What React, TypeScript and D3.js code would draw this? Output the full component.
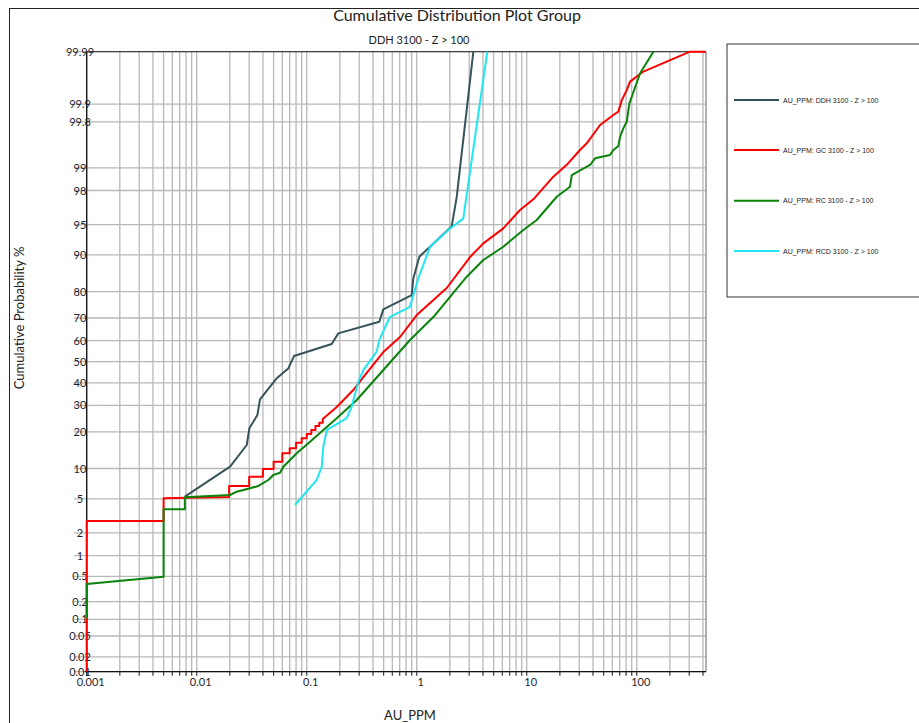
import React from "react";
import * as d3 from "d3";

const TITLE = "Cumulative Distribution Plot Group";
const SUBTITLE = "DDH 3100 - Z > 100";
const X_TITLE = "AU_PPM";
const Y_TITLE = "Cumulative Probability %";

const X_MIN = 0.001;
const X_MAX = 426;
const P_MIN = 0.01;
const P_MAX = 99.99;

const xTickLabels = [0.001, 0.01, 0.1, 1, 10, 100];
const yTickValues = [0.01, 0.02, 0.05, 0.1, 0.2, 0.5, 1, 2, 5, 10, 20, 30, 40, 50, 60, 70, 80, 90, 95, 98, 99, 99.8, 99.9, 99.99];

// [AU_PPM, cumulative %]
const ddh: [number, number][] = [
  [0.0078, 5.27], [0.0201, 10.39], [0.0285, 15.88], [0.0301, 21.2], [0.0356, 26.1],
  [0.0376, 32.6], [0.0533, 42.1], [0.068, 46.8], [0.0766, 52.7], [0.1687, 58.4],
  [0.1936, 63.3], [0.457, 68.4], [0.497, 73.5], [0.9, 78.8], [0.931, 84.1],
  [1.056, 89.6], [1.32, 91.6], [2.08, 94.8], [2.31, 97.6], [3.27, 99.99],
];

const gc: [number, number][] = [
  [0.001, 0.01], [0.001, 2.8], [0.005, 2.8], [0.005, 5.06], [0.0197, 5.23], [0.0197, 6.8],
  [0.03, 6.8], [0.03, 8.39], [0.04, 8.39], [0.04, 9.9], [0.05, 9.9], [0.05, 11.5],
  [0.06, 11.5], [0.06, 13.6], [0.07, 13.6], [0.07, 14.94], [0.08, 14.94], [0.08, 16.56],
  [0.09, 16.56], [0.09, 17.9], [0.1, 17.9], [0.1, 19.3], [0.11, 19.3], [0.11, 20.6],
  [0.12, 20.6], [0.12, 22.0], [0.13, 22.0], [0.13, 23.2], [0.14, 23.2], [0.14, 24.6],
  [0.1874, 29.35], [0.265, 36.7], [0.327, 42.7], [0.497, 54.6], [0.705, 61.65],
  [1.0, 71.2], [1.874, 81.17], [3.05, 89.54], [4.03, 92.22], [6.12, 94.52],
  [8.69, 96.56], [11.48, 97.43], [17.45, 98.68], [23.1, 99.09], [30.5, 99.445],
  [35.1, 99.56], [46.4, 99.774], [61.3, 99.846], [68.0, 99.865], [73.07, 99.915],
  [81.1, 99.944], [86.9, 99.961], [114.8, 99.975], [305, 99.99], [426, 99.99],
];

const rc: [number, number][] = [
  [0.001, 0.104], [0.001, 0.383], [0.005, 0.495], [0.005, 3.83], [0.0078, 3.83],
  [0.0078, 5.19], [0.0201, 5.49], [0.0231, 5.94], [0.0305, 6.44], [0.0363, 6.8],
  [0.0448, 7.79], [0.0497, 8.71], [0.0572, 9.15], [0.0613, 10.39], [0.0705, 11.92],
  [0.0811, 13.59], [0.1072, 16.86], [0.1416, 20.63], [0.1874, 24.86], [0.2848, 32.29],
  [0.497, 46.03], [0.869, 60.27], [1.416, 70.4], [2.848, 84.6], [4.03, 88.88],
  [6.12, 91.61], [9.31, 94.29], [12.33, 95.54], [18.74, 97.61], [24.75, 98.21],
  [25.65, 98.744], [37.6, 99.086], [41.8, 99.266], [57.1, 99.343], [61.3, 99.445],
  [68.0, 99.517], [70.5, 99.652], [75.5, 99.744], [81.1, 99.8], [85.7, 99.903],
  [90.1, 99.926], [107.2, 99.973], [141.6, 99.99],
];

const rcd: [number, number][] = [
  [0.0782, 4.28], [0.1233, 7.8], [0.1369, 10.39], [0.1416, 15.4], [0.152, 20.6],
  [0.231, 24.9], [0.2565, 29.5], [0.2944, 40.5], [0.327, 46.0], [0.4326, 54.8],
  [0.46, 60.7], [0.572, 70.5], [0.869, 74.5], [0.931, 78.8], [1.034, 84.1],
  [1.32, 91.6], [2.008, 94.5], [2.65, 95.7], [4.38, 99.99],
];

const seriesNames = [
  "AU_PPM: DDH 3100 - Z > 100",
  "AU_PPM: GC 3100 - Z > 100",
  "AU_PPM: RC 3100 - Z > 100",
  "AU_PPM: RCD 3100 - Z > 100",
];
const seriesColors = ["#37535a", "#ff0000", "#0a830a", "#1ee6f2"];
const seriesData = [ddh, gc, rc, rcd];

// inverse standard normal CDF (Acklam)
function qnorm(p: number): number {
  const a = [-3.969683028665376e1, 2.209460984245205e2, -2.759285104469687e2, 1.38357751867269e2, -3.066479806614716e1, 2.506628277459239];
  const b = [-5.447609879822406e1, 1.615858368580409e2, -1.556989798598866e2, 6.680131188771972e1, -1.328068155288572e1];
  const c = [-7.784894002430293e-3, -3.223964580411365e-1, -2.400758277161838, -2.549732539343734, 4.374664141464968, 2.938163982698783];
  const d = [7.784695709041462e-3, 3.224671290700398e-1, 2.445134137142996, 3.754408661907416];
  const pl = 0.02425;
  let q: number, r: number;
  if (p < pl) {
    q = Math.sqrt(-2 * Math.log(p));
    return (((((c[0] * q + c[1]) * q + c[2]) * q + c[3]) * q + c[4]) * q + c[5]) / ((((d[0] * q + d[1]) * q + d[2]) * q + d[3]) * q + 1);
  }
  if (p <= 1 - pl) {
    q = p - 0.5;
    r = q * q;
    return (((((a[0] * r + a[1]) * r + a[2]) * r + a[3]) * r + a[4]) * r + a[5]) * q / (((((b[0] * r + b[1]) * r + b[2]) * r + b[3]) * r + b[4]) * r + 1);
  }
  q = Math.sqrt(-2 * Math.log(1 - p));
  return -(((((c[0] * q + c[1]) * q + c[2]) * q + c[3]) * q + c[4]) * q + c[5]) / ((((d[0] * q + d[1]) * q + d[2]) * q + d[3]) * q + 1);
}

const W = 919;
const H = 723;
const L = 86.7;
const R = 706;
const T = 51.7;
const B = 671.7;

export default function App() {
  const x = d3.scaleLog().domain([X_MIN, X_MAX]).range([L, R]);
  const zScale = d3.scaleLinear().domain([qnorm(P_MIN / 100), qnorm(P_MAX / 100)]).range([B, T]);
  const y = (p: number) => zScale(qnorm(p / 100));

  const xGrid: number[] = [];
  for (let e = -3; e <= 2; e++) {
    for (let m = 1; m <= 9; m++) {
      const v = m * Math.pow(10, e);
      if (v <= X_MAX * 1.0001) xGrid.push(v);
    }
  }

  const line = d3
    .line<[number, number]>()
    .x((d) => x(d[0]))
    .y((d) => y(d[1]));

  const font = "Lato, 'Open Sans', sans-serif";
  const legendY = [100, 150, 200.7, 251];

  return (
    <svg width={W} height={H} style={{ position: "absolute", left: 0, top: 0, background: "#fff" }}>
      <rect x={0} y={0} width={W} height={H} fill="#fff" />
      <rect x={9.5} y={8.5} width={1000} height={1000} fill="none" stroke="#222" strokeWidth={1} />

      <text x={457} y={21} textAnchor="middle" fontFamily={font} fontSize={16} fill="#222">{TITLE}</text>
      <text x={419} y={44} textAnchor="middle" fontFamily={font} fontSize={11} fill="#222">{SUBTITLE}</text>

      {/* grid */}
      {xGrid.map((v, i) => (
        <line key={"gx" + i} x1={x(v)} x2={x(v)} y1={T} y2={B + 4} stroke="#b8b8b8" strokeWidth={1.3} />
      ))}
      {yTickValues.map((p, i) => (
        <line key={"gy" + i} x1={74} x2={R} y1={y(p)} y2={y(p)} stroke="#b8b8b8" strokeWidth={1.3} />
      ))}
      <line x1={R} x2={R} y1={T} y2={B} stroke="#999" strokeWidth={1.5} />
      <line x1={L} x2={R} y1={T} y2={T} stroke="#444" strokeWidth={1.3} />

      {/* axes */}
      <line x1={L} x2={L} y1={T} y2={B + 4} stroke="#111" strokeWidth={1.3} />
      <line x1={L - 2} x2={R} y1={B} y2={B} stroke="#111" strokeWidth={1.3} />
      {xGrid.map((v, i) => (
        <line key={"tx" + i} x1={x(v)} x2={x(v)} y1={B} y2={B + 4} stroke="#333" strokeWidth={1} />
      ))}

      {yTickValues.map((p, i) => (
        <text key={"ly" + i} x={80} y={y(p) + 4} textAnchor="middle" fontFamily={font} fontSize={11} fill="#1e1e30">{String(p)}</text>
      ))}
      {xTickLabels.map((v, i) => (
        <text key={"lx" + i} x={x(v) + 4} y={686} textAnchor="middle" fontFamily={font} fontSize={11} fill="#1e1e30">{String(v)}</text>
      ))}

      <text x={410} y={720} textAnchor="middle" fontFamily={font} fontSize={13} fill="#222">{X_TITLE}</text>
      <text transform="translate(24,318) rotate(-90)" textAnchor="middle" fontFamily={font} fontSize={13} fill="#222">{Y_TITLE}</text>

      {/* series */}
      {seriesData.map((s, i) => (
        <path key={"s" + i} d={line(s) || ""} fill="none" stroke={seriesColors[i]} strokeWidth={2} strokeLinejoin="round" />
      ))}

      {/* legend */}
      <rect x={727} y={44} width={300} height={253} fill="#fff" stroke="#333" strokeWidth={1} />
      {seriesNames.map((n, i) => (
        <g key={"lg" + i}>
          <line x1={734} x2={779} y1={legendY[i]} y2={legendY[i]} stroke={seriesColors[i]} strokeWidth={2} />
          <text x={783} y={legendY[i] + 2.5} fontFamily="'Liberation Sans', Arial, sans-serif" fontSize={7} fill="#222">{n}</text>
        </g>
      ))}
    </svg>
  );
}
